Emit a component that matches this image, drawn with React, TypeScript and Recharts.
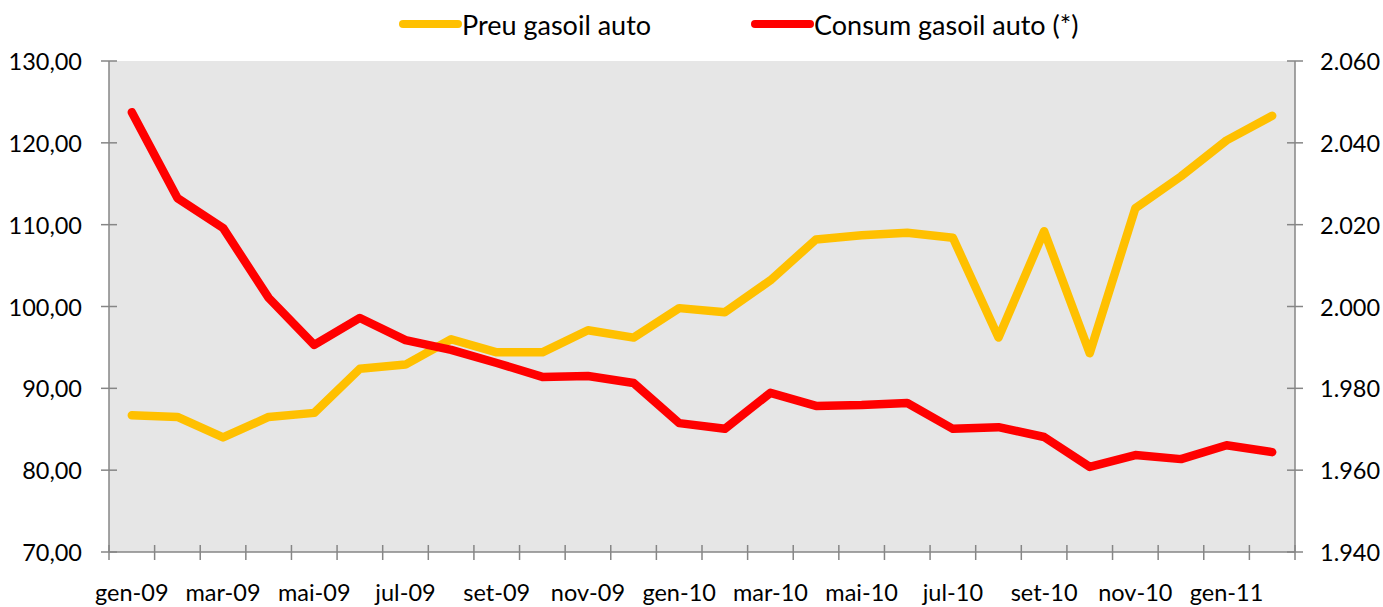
import { LineChart, Line, XAxis, YAxis, CartesianGrid, Legend } from 'recharts';

const MONTHS = [
    'gen-09', 'feb-09', 'mar-09', 'abr-09', 'mai-09', 'jun-09', 'jul-09', 'ago-09', 'set-09', 'oct-09', 'nov-09', 'des-09',
    'gen-10', 'feb-10', 'mar-10', 'abr-10', 'mai-10', 'jun-10', 'jul-10', 'ago-10', 'set-10', 'oct-10', 'nov-10', 'des-10',
    'gen-11', 'feb-11',
];

// Preu gasoil auto (eix esquerre)
const PREU = [
    86.7, 86.5, 84.0, 86.5, 87.0, 92.4, 92.9, 96.0, 94.4, 94.4, 97.1, 96.2,
    99.8, 99.3, 103.2, 108.2, 108.7, 109.0, 108.4, 96.2, 109.2, 94.3, 112.0, 115.9,
    120.3, 123.3,
];

// Consum gasoil auto (*) (eix dret)
const CONSUM = [
    2047.5, 2026.5, 2019.2, 2002.1, 1990.6, 1997.2, 1991.8, 1989.4, 1986.2, 1982.8, 1983.0, 1981.3,
    1971.5, 1970.1, 1978.9, 1975.7, 1975.9, 1976.4, 1970.1, 1970.5, 1968.1, 1960.8, 1963.7, 1962.7,
    1966.1, 1964.4,
];

const LEFT_TICKS = [70, 80, 90, 100, 110, 120, 130];
const RIGHT_TICKS = [1940, 1960, 1980, 2000, 2020, 2040, 2060];

const data = MONTHS.map((m, i) => ({ mes: m, preu: PREU[i], consum: CONSUM[i] }));

const W = 1383;
const H = 607;
const LEFT_W = 109;
const RIGHT_W = 88;
const BAND = (W - LEFT_W - RIGHT_W) / MONTHS.length;
const AXIS_COLOR = '#868686';
const FONT = 'Lato, "Open Sans", sans-serif';
const TICK_FONT = 23.5;

const fmtLeft = (v: number) => v.toFixed(2).replace('.', ',');
const fmtRight = (v: number) => `${Math.floor(v / 1000)}.${String(Math.round(v % 1000)).padStart(3, '0')}`;

const LeftTick = (props: any) => {
    const { x, y, payload } = props;
    return (
        <g>
            <line x1={x - 8} x2={x + 8} y1={y} y2={y} stroke={AXIS_COLOR} strokeWidth={1.5} />
            <text x={x - 27} y={y} textAnchor="end" dominantBaseline="central" fontSize={TICK_FONT} fill="#000" fontFamily={FONT}>
                {fmtLeft(payload.value)}
            </text>
        </g>
    );
};

const RightTick = (props: any) => {
    const { x, y, payload } = props;
    return (
        <g>
            <line x1={x - 8} x2={x + 8} y1={y} y2={y} stroke={AXIS_COLOR} strokeWidth={1.5} />
            <text x={x + 25} y={y} textAnchor="start" dominantBaseline="central" fontSize={TICK_FONT} fill="#000" fontFamily={FONT}>
                {fmtRight(payload.value)}
            </text>
        </g>
    );
};

const BottomTick = (props: any) => {
    const { x, y, payload, index } = props;
    const last = index === MONTHS.length - 1;
    return (
        <g>
            <line x1={x - BAND / 2} x2={x - BAND / 2} y1={y - 7} y2={y + 8} stroke={AXIS_COLOR} strokeWidth={1.5} />
            {last && <line x1={x + BAND / 2} x2={x + BAND / 2} y1={y - 7} y2={y + 8} stroke={AXIS_COLOR} strokeWidth={1.5} />}
            {index % 2 === 0 && (
                <text x={x} y={y + 40} textAnchor="middle" dominantBaseline="central" fontSize={TICK_FONT} fill="#000" fontFamily={FONT}>
                    {payload.value}
                </text>
            )}
        </g>
    );
};

const renderLegend = () => {
    const items = [
        { name: 'Preu gasoil auto', color: '#FFC000', left: 398 },
        { name: 'Consum gasoil auto (*)', color: '#FF0000', left: 750 },
    ];
    return (
        <div style={{ position: 'relative', width: W, height: 57 }}>
            {items.map(it => (
                <div key={it.name} style={{ position: 'absolute', left: it.left, top: 0, height: 40, display: 'flex', alignItems: 'center' }}>
                    <svg width={64} height={12}>
                        <line x1={5} x2={60} y1={6} y2={6} stroke={it.color} strokeWidth={8} strokeLinecap="round" />
                    </svg>
                    <span style={{ fontSize: 27, fontFamily: FONT, color: '#000' }}>{it.name}</span>
                </div>
            ))}
        </div>
    );
};

export default function App() {
    return (
        <div style={{ position: 'absolute', left: 0, top: 0, width: W, height: H, background: '#fff' }}>
            <LineChart width={W} height={H} data={data} margin={{ top: 4, right: 0, bottom: 0, left: 0 }}>
                <CartesianGrid fill="#E6E6E6" horizontal={false} vertical={false} />
                <Legend verticalAlign="top" align="left" content={renderLegend} wrapperStyle={{ left: 0, top: 4 }} />
                <XAxis
                    dataKey="mes"
                    scale="band"
                    interval={0}
                    height={55}
                    tickSize={0}
                    tickMargin={0}
                    tickLine={false}
                    axisLine={{ stroke: AXIS_COLOR, strokeWidth: 1.5 }}
                    tick={BottomTick}
                />
                <YAxis
                    yAxisId="left"
                    orientation="left"
                    width={LEFT_W}
                    domain={[70, 130]}
                    ticks={LEFT_TICKS}
                    tickSize={0}
                    tickMargin={0}
                    tickLine={false}
                    axisLine={{ stroke: AXIS_COLOR, strokeWidth: 1.5 }}
                    tick={LeftTick}
                />
                <YAxis
                    yAxisId="right"
                    orientation="right"
                    width={RIGHT_W}
                    domain={[1940, 2060]}
                    ticks={RIGHT_TICKS}
                    tickSize={0}
                    tickMargin={0}
                    tickLine={false}
                    axisLine={{ stroke: AXIS_COLOR, strokeWidth: 1.5 }}
                    tick={RightTick}
                />
                <Line yAxisId="left" type="linear" dataKey="preu" name="Preu gasoil auto" stroke="#FFC000" strokeWidth={8.5} strokeLinecap="round" strokeLinejoin="round" dot={false} isAnimationActive={false} />
                <Line yAxisId="right" type="linear" dataKey="consum" name="Consum gasoil auto (*)" stroke="#FF0000" strokeWidth={8.5} strokeLinecap="round" strokeLinejoin="round" dot={false} isAnimationActive={false} />
            </LineChart>
        </div>
    );
}
